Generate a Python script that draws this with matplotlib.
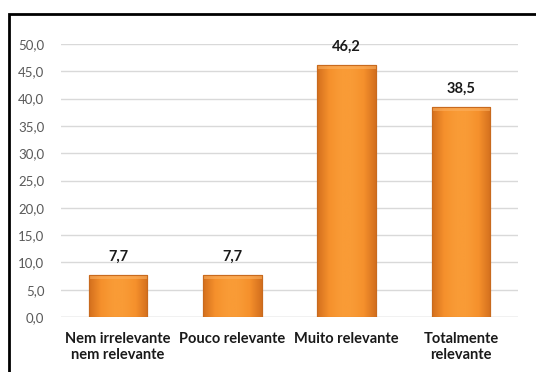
import matplotlib.pyplot as plt
import numpy as np
from matplotlib.patches import Rectangle
from matplotlib.colors import LinearSegmentedColormap

categorias = ['Nem irrelevante\nnem relevante', 'Pouco relevante', 'Muito relevante', 'Totalmente\nrelevante']
valores = [7.7, 7.7, 46.2, 38.5]
rotulos = ['7,7', '7,7', '46,2', '38,5']
ticks_y = [0, 5, 10, 15, 20, 25, 30, 35, 40, 45, 50]

plt.rcParams['font.family'] = ['Lato', 'DejaVu Sans']

fig = plt.figure(figsize=(5.36, 3.72), dpi=100)
ax = fig.add_axes([61/536, 1-317/372, 457/536, 273/372])

# moldura preta em volta do grafico
fig.patches.append(Rectangle((9/536, -0.05), 1.1, 1-14/372+0.05, transform=fig.transFigure,
                             fill=False, edgecolor='black', linewidth=2, zorder=0))

x = np.arange(len(valores))
barras = ax.bar(x, valores, width=0.51, color='#F7962A', edgecolor='#C86A1E', linewidth=0.8, zorder=2)

# degradê nas barras (mais claro no meio, escuro nas bordas)
cmap = LinearSegmentedColormap.from_list('lar', ['#D4701E', '#F5902C', '#F99B36', '#F99B36', '#F5902C', '#D4701E'])
grad = np.linspace(0, 1, 64).reshape(1, -1)
for b in barras:
    x0, w, h = b.get_x(), b.get_width(), b.get_height()
    im = ax.imshow(grad, cmap=cmap, extent=[x0, x0 + w, 0, h], aspect='auto', zorder=2.5)
    im.set_clip_path(b)
    ax.add_patch(Rectangle((x0, h - 0.7), w, 0.7, facecolor='#FCB060', edgecolor='none', zorder=2.6, alpha=0.6))
    ax.add_patch(Rectangle((x0, 0), w, h, fill=False, edgecolor='#C86A1E', linewidth=0.8, zorder=2.7))

for xi, v, r in zip(x, valores, rotulos):
    ax.text(xi, v + 2.0, r, ha='center', va='bottom', fontsize=10.5, fontweight='bold', color='#1a1a1a')

ax.set_xlim(-0.5, 3.5)
ax.set_ylim(0, 50)
ax.set_yticks(ticks_y)
ax.set_yticklabels([('%.1f' % t).replace('.', ',') for t in ticks_y], fontsize=9.5, color='#595959')
ax.set_xticks(x)
ax.set_xticklabels(categorias, fontsize=10.5, fontweight='bold', color='#1a1a1a', linespacing=1.2)
ax.tick_params(axis='y', length=0, pad=12)
ax.tick_params(axis='x', length=0, pad=11)
ax.yaxis.grid(True, color='#d9d9d9', linewidth=1)
ax.set_axisbelow(True)
for s in ax.spines.values():
    s.set_visible(False)
ax.axhline(0, color='#d9d9d9', linewidth=1, zorder=1)

fig.savefig('out.png', dpi=100)
